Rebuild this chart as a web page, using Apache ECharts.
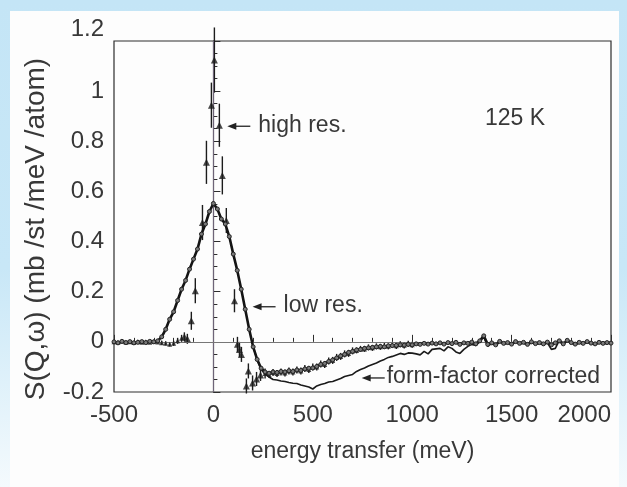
<!DOCTYPE html>
<html>
<head>
<meta charset="utf-8">
<script src="https://cdn.jsdelivr.net/npm/echarts@6/dist/echarts.min.js"></script>
<style>
  html, body { margin: 0; padding: 0; }
  body {
    width: 627px; height: 487px; overflow: hidden;
    background: linear-gradient(to bottom, #c4e5f6 0%, #c8e7f7 55%, #f4fafd 100%);
    position: relative;
  }
  #panel {
    position: absolute; left: 10px; top: 11px; width: 609px; height: 476px;
    background: #fdfdfd;
  }
  #chart { position: absolute; left: 0; top: 0; width: 627px; height: 487px; }
</style>
</head>
<body>
<div id="panel"></div>
<div id="chart"></div>
<script>
// Energy grid of the low-resolution spectrum (meV)
const lowResEnergy = [
  -500,-480,-460,-440,-420,-400,-380,-360,-340,-320,-300,-280,-260,-240,-220,-200,
  -180,-160,-140,-120,-100,-80,-60,-40,-20,0,20,40,60,80,100,120,140,160,180,200,
  220,240,260,280,300,320,340,360,380,400,420,440,460,480,500,520,540,560,580,600,
  620,640,660,680,700,720,740,760,780,800,820,840,860,880,900,920,940,960,980,1000,
  1020,1040,1060,1080,1100,1120,1140,1160,1180,1200,1220,1240,1260,1280,1300,1320,
  1340,1360,1380,1400,1420,1440,1460,1480,1500,1520,1540,1560,1580,1600,1620,1640,
  1660,1680,1700,1720,1740,1760,1780,1800,1820,1840,1860,1880,1900,1920,1940,1960,
  1980,2000
];
// S(Q,w), low resolution
const lowResS = [
  0.000,-0.004,0.002,-0.003,0.001,-0.004,-0.002,0.001,-0.003,0.002,0.000,0.004,0.020,0.050,0.090,0.120,
  0.165,0.210,0.245,0.290,0.330,0.370,0.430,0.470,0.520,0.552,0.530,0.490,0.470,0.420,0.350,0.285,0.210,0.130,0.050,-0.020,
  -0.070,-0.105,-0.120,-0.125,-0.120,-0.122,-0.118,-0.120,-0.115,-0.118,-0.112,-0.114,-0.108,-0.105,-0.104,-0.098,-0.090,-0.086,-0.078,-0.072,
  -0.064,-0.056,-0.050,-0.042,-0.038,-0.032,-0.030,-0.026,-0.024,-0.022,-0.020,-0.018,-0.020,-0.016,-0.015,-0.014,-0.012,-0.013,-0.010,-0.012,
  -0.008,-0.010,-0.006,-0.009,-0.005,-0.008,-0.004,-0.009,-0.003,-0.007,-0.002,-0.010,-0.004,-0.006,-0.001,-0.008,
  0.004,0.024,-0.010,-0.004,-0.012,0.002,-0.006,-0.003,-0.009,0.001,-0.006,-0.002,-0.010,0.000,-0.007,-0.003,
  -0.008,-0.001,-0.012,-0.004,0.004,-0.008,0.006,-0.003,-0.009,-0.002,-0.006,0.001,-0.005,-0.008,-0.002,-0.006,
  -0.003,-0.005
];

// Form-factor corrected spectrum (meV, S)
const ffEnergy = [
  200,220,240,260,280,300,320,340,360,380,400,420,440,460,480,500,520,540,560,580,600,
  620,640,660,680,700,720,740,760,780,800,820,840,860,880,900,920,940,960,980,1000,
  1020,1040,1060,1080,1100,1120,1140,1160,1180,1200,1220,1240,1260,1280,1300,1320,
  1340,1360,1380,1400,1420,1440,1460,1480,1500,1520,1540,1560,1580,1600,1620,1640,
  1660,1680,1700,1720,1740,1760,1780,1800,1820,1840,1860,1880,1900,1920,1940,1960,
  1980,2000
];
const ffS = [
  -0.020,-0.070,-0.110,-0.128,-0.140,-0.150,-0.152,-0.156,-0.158,-0.162,-0.165,-0.166,-0.172,-0.176,-0.180,-0.188,-0.176,-0.170,-0.166,-0.160,-0.158,
  -0.152,-0.146,-0.138,-0.134,-0.130,-0.118,-0.110,-0.104,-0.096,-0.090,-0.084,-0.076,-0.070,-0.062,-0.058,-0.052,-0.046,-0.050,-0.044,-0.045,
  -0.048,-0.052,-0.038,-0.048,-0.030,-0.028,-0.026,-0.036,-0.020,-0.026,-0.040,-0.046,-0.030,-0.018,-0.010,-0.014,
  0.002,0.020,-0.018,-0.006,-0.014,0.000,-0.010,-0.004,-0.012,0.002,-0.010,-0.004,-0.014,-0.002,-0.010,-0.006,
  -0.012,-0.004,-0.030,-0.026,0.006,-0.012,0.008,-0.004,-0.012,-0.004,-0.008,-0.002,-0.006,-0.012,-0.004,-0.008,
  -0.004,-0.006
];

// High-resolution spectrum: energy, S, error
const highResEnergy = [
  -500,-480,-460,-440,-420,-400,-380,-360,-340,-320,-300,-280,-260,-240,-220,-200,-180,-160,-146,-131,
  -111,-91,-55,-35,-10,5,30,45,65,106,121,131,141,166,176,197,217,237,
  260,280,300,320,340,360,380,400,420,440,460,480,500,520,540,560,580,600,620,640,660,680,700,
  720,740,760,780,800,820,840,860,880,900,920,940,960,980,1000
];
const highResS = [
  0.000,-0.002,0.002,-0.002,0.000,-0.003,0.001,-0.002,0.000,-0.002,0.001,-0.001,-0.004,-0.006,-0.010,-0.006,0.004,0.014,0.020,0.012,
  0.084,0.204,0.476,0.716,0.944,1.124,0.864,0.664,0.484,0.164,-0.010,-0.030,-0.050,-0.176,-0.116,-0.164,-0.148,-0.132,
  -0.126,-0.130,-0.122,-0.126,-0.120,-0.124,-0.116,-0.120,-0.112,-0.116,-0.106,-0.110,-0.100,-0.100,-0.088,-0.090,-0.076,-0.074,-0.062,-0.058,-0.048,-0.046,-0.036,
  -0.034,-0.028,-0.028,-0.022,-0.024,-0.018,-0.020,-0.016,-0.018,-0.012,-0.016,-0.010,-0.014,-0.008,-0.012
];
const highResErr = [
  0.006,0.006,0.006,0.006,0.006,0.006,0.006,0.006,0.006,0.006,0.006,0.006,0.008,0.008,0.008,0.010,0.012,0.014,0.018,0.020,
  0.036,0.050,0.070,0.086,0.090,0.130,0.086,0.076,0.050,0.046,0.030,0.030,0.030,0.030,0.030,0.030,0.028,0.024,
  0.020,0.014,0.014,0.014,0.014,0.014,0.014,0.014,0.014,0.014,0.014,0.014,0.014,0.014,0.014,0.014,0.014,0.014,0.014,0.014,0.014,0.014,0.014,
  0.012,0.012,0.012,0.012,0.012,0.012,0.012,0.012,0.012,0.012,0.012,0.012,0.012,0.012,0.012
];

// Axis ranges and tick labels
const xRange = [-500, 2000];
const yRange = [-0.2, 1.2];
const xTicks = [-500, 0, 500, 1000, 1500, 2000];
const yTicks = [-0.2, 0, 0.2, 0.4, 0.6, 0.8, 1, 1.2];

// Text annotations anchored in data coordinates (arrow tip)
const annotations = [
  { text: 'high res.', at: [70, 0.86] },
  { text: 'low res.', at: [197, 0.14] },
  { text: 'form-factor corrected', at: [746, -0.144] }
];
const tempLabel = { text: '125 K', at: [1517, 0.89] };

const xName = 'energy transfer (meV)';
const yName = 'S(Q,\u03c9) (mb /st /meV /atom)';

const FONT = '"Liberation Sans", Arial, sans-serif';
const INK = '#383838';

const zip = (xs, ys) => xs.map((x, i) => [x, ys[i]]);

const chart = echarts.init(document.getElementById('chart'), null, { renderer: 'canvas' });

chart.setOption({
  animation: false,
  backgroundColor: 'transparent',
  grid: {
    left: 114, top: 41, width: 497, height: 351,
    show: true, borderColor: '#2e2e2e', borderWidth: 1.2, backgroundColor: 'transparent'
  },
  xAxis: {
    type: 'value', min: xRange[0], max: xRange[1], interval: 500,
    name: xName, nameLocation: 'middle', nameGap: 48,
    nameTextStyle: { color: INK, fontFamily: FONT, fontSize: 23 },
    axisLine: { show: true, lineStyle: { color: '#2e2e2e', width: 1.2 } },
    axisTick: { show: true, inside: true, length: 7, lineStyle: { color: '#2e2e2e' } },
    minorTick: { show: true, splitNumber: 5, length: 4, lineStyle: { color: '#2e2e2e' } },
    splitLine: { show: false },
    axisLabel: {
      margin: 11, color: INK, fontFamily: FONT, fontSize: 24,
      alignMaxLabel: 'right',
      formatter: v => (xTicks.indexOf(v) >= 0 ? String(v) : '')
    }
  },
  yAxis: {
    type: 'value', min: yRange[0], max: yRange[1], interval: 0.2,
    name: yName, nameLocation: 'middle', nameRotate: 90, nameGap: 64,
    nameTextStyle: { color: INK, fontFamily: FONT, fontSize: 28, padding: [0, 25, 0, 0] },
    axisLine: { show: true, lineStyle: { color: '#2e2e2e', width: 1.2 } },
    axisTick: { show: true, inside: true, length: 7, lineStyle: { color: '#2e2e2e' } },
    minorTick: { show: true, splitNumber: 4, length: 4, lineStyle: { color: '#2e2e2e' } },
    splitLine: { show: false },
    axisLabel: {
      margin: 10, color: INK, fontFamily: FONT, fontSize: 24,
      verticalAlignMaxLabel: 'bottom',
      formatter: v => {
        const t = yTicks.find(k => Math.abs(k - v) < 1e-6);
        return t === undefined ? '' : String(t);
      }
    }
  },
  series: [
    {
      // zero reference lines
      type: 'line', data: [], silent: true,
      markLine: {
        silent: true, symbol: 'none', label: { show: false },
        lineStyle: { type: 'solid', width: 1, color: '#6e6478' },
        data: [{ xAxis: 0 }, { yAxis: 0, lineStyle: { color: '#777', width: 1 } }]
      }
    },
    {
      name: 'form-factor corrected',
      type: 'line', data: zip(ffEnergy, ffS),
      showSymbol: false, symbol: 'none',
      lineStyle: { color: '#1a1a1a', width: 1.6 }, z: 3
    },
    {
      name: 'high res. error',
      type: 'custom', clip: false, z: 4,
      data: highResEnergy.map((e, i) => [e, highResS[i], highResErr[i]]),
      renderItem: (params, api) => {
        const x = api.value(0), y = api.value(1), err = api.value(2);
        const p1 = api.coord([x, y - err]);
        const p2 = api.coord([x, y + err]);
        return {
          type: 'line',
          shape: { x1: p1[0], y1: p1[1], x2: p2[0], y2: p2[1] },
          style: { stroke: '#1c1c1c', lineWidth: 1.4 }
        };
      }
    },
    {
      name: 'high res.',
      type: 'scatter', data: zip(highResEnergy, highResS),
      symbol: 'triangle', symbolSize: (v) => (Math.abs(v[0]) < 260 && v[0] > -150 ? 7 : 5),
      itemStyle: { color: '#1c1c1c' }, z: 5
    },
    {
      name: 'low res.',
      type: 'line', data: zip(lowResEnergy, lowResS),
      showSymbol: true, symbol: 'circle', symbolSize: 4,
      itemStyle: { color: '#7a7a7a', borderColor: '#222', borderWidth: 1 },
      lineStyle: { color: '#141414', width: 2.6 }, z: 6
    }
  ]
});

// Annotations with arrows, placed from data coordinates
function drawAnnotations() {
  const g = [];
  annotations.forEach(a => {
    const p = chart.convertToPixel({ gridIndex: 0 }, a.at);
    const tx = p[0], ty = p[1];
    g.push({ type: 'line', shape: { x1: tx + 6, y1: ty, x2: tx + 23, y2: ty }, style: { stroke: '#222', lineWidth: 1.3 } });
    g.push({ type: 'polygon', shape: { points: [[tx, ty], [tx + 9, ty - 3.5], [tx + 9, ty + 3.5]] }, style: { fill: '#222' } });
    g.push({
      type: 'text', x: tx + (a.text === 'form-factor corrected' ? 25 : 31), y: ty - 1,
      style: { text: a.text, fill: INK, font: '23px ' + FONT, textAlign: 'left', textVerticalAlign: 'middle' }
    });
  });
  const q = chart.convertToPixel({ gridIndex: 0 }, tempLabel.at);
  g.push({
    type: 'text', x: q[0], y: q[1],
    style: { text: tempLabel.text, fill: INK, font: '23px ' + FONT, textAlign: 'center', textVerticalAlign: 'middle' }
  });
  chart.setOption({ graphic: g });
}
drawAnnotations();
</script>
</body>
</html>
